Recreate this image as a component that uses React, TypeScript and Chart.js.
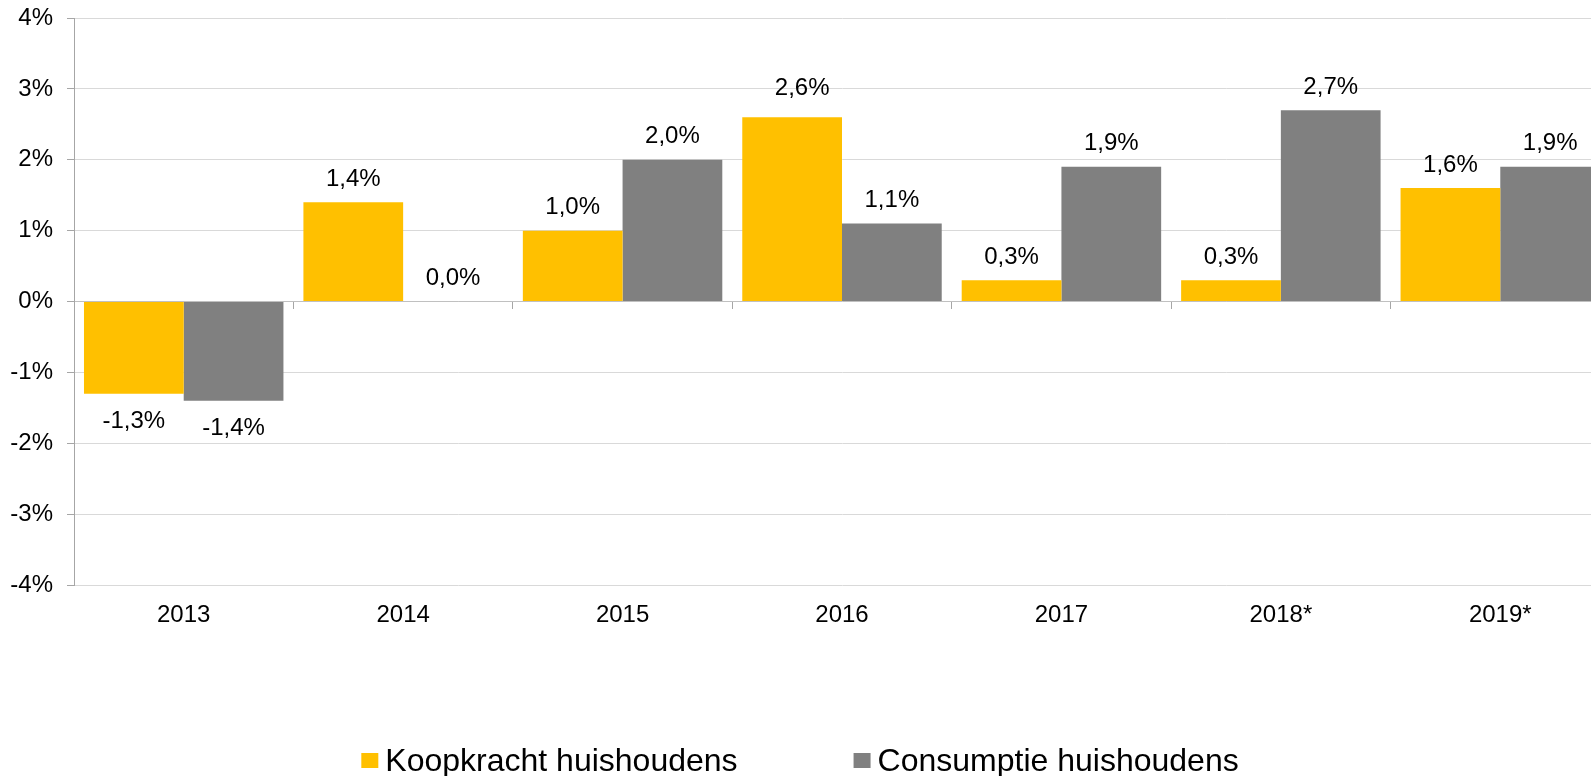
import React, { useEffect, useRef } from 'react';
import { Chart, registerables } from 'chart.js';

Chart.register(...registerables);

// ---- Data ----
const categories = ['2013', '2014', '2015', '2016', '2017', '2018*', '2019*'];
const koopkracht = [-1.3, 1.4, 1.0, 2.6, 0.3, 0.3, 1.6];
const consumptie = [-1.4, 0.0, 2.0, 1.1, 1.9, 2.7, 1.9];
const seriesNames = ['Koopkracht huishoudens', 'Consumptie huishoudens'];
const seriesColors = ['#FFC000', '#808080'];
const yMin = -4;
const yMax = 4;
const yStep = 1;

const FONT = '"Liberation Sans", Arial, Helvetica, sans-serif';

const formatPct = (v: number) => v.toFixed(1).replace('.', ',') + '%';

// manual nudges of individual value labels (dataset-index:point-index -> [dx, dy])
const labelNudges: Record<string, [number, number]> = { '0:3': [10, -6] };

const dataLabelPlugin = {
  id: 'dataLabels',
  afterDatasetsDraw(chart: any) {
    const ctx = chart.ctx;
    ctx.save();
    ctx.font = `24px ${FONT}`;
    ctx.fillStyle = '#000000';
    ctx.textAlign = 'center';
    ctx.textBaseline = 'middle';
    chart.data.datasets.forEach((ds: any, i: number) => {
      const meta = chart.getDatasetMeta(i);
      meta.data.forEach((el: any, j: number) => {
        const v = ds.data[j] as number;
        const nudge = labelNudges[`${i}:${j}`] || [0, 0];
        const y = v >= 0 ? el.y - 23 : el.y + 28;
        ctx.fillText(formatPct(v), el.x + nudge[0], y + nudge[1]);
      });
    });
    ctx.restore();
  },
};

const legendPlugin = {
  id: 'customLegend',
  afterDraw(chart: any) {
    const ctx = chart.ctx;
    ctx.save();
    ctx.font = `32px ${FONT}`;
    const boxW = 17;
    const boxH = 15;
    const gap = 7;
    const spacing = 116;
    const center = 800;
    const items = chart.data.datasets.map((ds: any) => ({
      label: ds.label as string,
      color: ds.backgroundColor as string,
      w: ctx.measureText(ds.label).width,
    }));
    const total =
      items.reduce((s: number, it: any) => s + boxW + gap + it.w, 0) +
      spacing * (items.length - 1);
    let x = center - total / 2;
    const baseline = 771;
    items.forEach((it: any) => {
      ctx.fillStyle = it.color;
      ctx.fillRect(x, baseline - 18, boxW, boxH);
      x += boxW + gap;
      ctx.fillStyle = '#000000';
      ctx.textAlign = 'left';
      ctx.textBaseline = 'alphabetic';
      ctx.fillText(it.label, x, baseline);
      x += it.w + spacing;
    });
    ctx.restore();
  },
};

export default function App() {
  const canvasRef = useRef<HTMLCanvasElement | null>(null);

  useEffect(() => {
    if (!canvasRef.current) return;
    const tickFont = { family: FONT, size: 24 };
    const chart = new Chart(canvasRef.current, {
      type: 'bar',
      data: {
        labels: categories,
        datasets: [
          {
            label: seriesNames[0],
            data: koopkracht,
            backgroundColor: seriesColors[0],
            borderWidth: 0,
          },
          {
            label: seriesNames[1],
            data: consumptie,
            backgroundColor: seriesColors[1],
            borderWidth: 0,
          },
        ],
      },
      options: {
        responsive: false,
        animation: false,
        layout: { padding: { top: 18, right: 2, left: 0, bottom: 0 } },
        datasets: {
          bar: { categoryPercentage: 0.909, barPercentage: 1 },
        },
        plugins: {
          legend: { display: false },
          tooltip: { enabled: false },
        },
        scales: {
          x: {
            type: 'category',
            position: 'bottom',
            offset: true,
            grid: { display: false, drawTicks: false },
            border: { display: false },
            ticks: {
              font: tickFont,
              color: '#000000',
              padding: 16,
              maxRotation: 0,
              autoSkip: false,
            },
            afterFit: (s: any) => {
              s.height = 191;
            },
          },
          x2: {
            type: 'category',
            position: { y: 0 },
            offset: true,
            grid: {
              offset: true,
              drawOnChartArea: false,
              drawTicks: true,
              tickLength: 7,
              color: '#a6a6a6',
              tickColor: '#a6a6a6',
            },
            border: { display: true, color: '#c0c0c0', width: 1 },
            ticks: { display: false },
          },
          y: {
            type: 'linear',
            min: yMin,
            max: yMax,
            ticks: {
              stepSize: yStep,
              font: tickFont,
              color: '#000000',
              padding: 14,
              callback: (v: any) => `${v}%`,
            },
            grid: {
              color: '#d9d9d9',
              tickColor: '#a6a6a6',
              tickLength: 7,
              drawTicks: true,
            },
            border: { display: true, color: '#a6a6a6' },
            afterFit: (s: any) => {
              s.width = 74;
              s.paddingTop = 0;
              s.paddingBottom = 0;
            },
          },
        },
      } as any,
      plugins: [dataLabelPlugin, legendPlugin],
    });
    return () => chart.destroy();
  }, []);

  return (
    <div
      style={{
        position: 'fixed',
        left: 0,
        top: 0,
        width: 1591,
        height: 776,
        overflow: 'hidden',
        background: '#ffffff',
      }}
    >
      <canvas ref={canvasRef} width={1612} height={776} style={{ display: 'block' }} />
    </div>
  );
}
